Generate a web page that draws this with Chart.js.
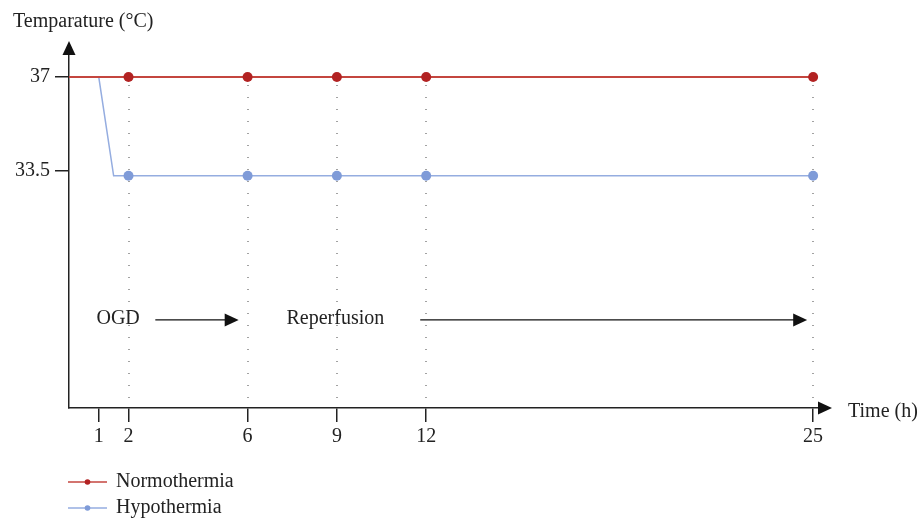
<!DOCTYPE html>
<html>
<head>
<meta charset="utf-8">
<script src="https://cdn.jsdelivr.net/npm/chart.js@4"></script>
<style>
  html, body { margin: 0; padding: 0; background: #fff; }
  #wrap { width: 923px; height: 519px; position: relative; }
</style>
</head>
<body>
<div id="wrap"><canvas id="tempChart"></canvas></div>
<script>
// values
const xTicks = [1, 2, 6, 9, 12, 25];
const yTicks = [37, 33.5];
const markerHours = [2, 6, 9, 12, 25];

const normHours = [0, 2, 6, 9, 12, 25];
const normTemp  = [37, 37, 37, 37, 37, 37];
const normDots  = [0, 5, 5, 5, 5, 5];

const hypoHours = [0, 1, 1.5, 2, 6, 9, 12, 25];
const hypoTemp  = [37, 37, 33.3, 33.3, 33.3, 33.3, 33.3, 33.3];
const hypoDots  = [0, 0, 0, 5, 5, 5, 5, 5];

// phase labels: text, text centre (h), arrow from, arrow to (h)
const phases = [
  { text: 'OGD', at: 1.65, from: 2.9, to: 5.7 },
  { text: 'Reperfusion', at: 8.95, from: 11.8, to: 24.8 }
];
const phaseTemp = 27.9;

const FONT = '"Liberation Serif", "DejaVu Serif", serif';
const FSIZE = 20;
const AXIS = '#222';
const RED = '#c4463f', RED_DOT = '#b22222';
const BLUE = '#95ade0', BLUE_DOT = '#7f9bd8';

const toPts = (xs, ys) => xs.map((x, i) => ({ x: x, y: ys[i] }));

function arrowHead(ctx, x, y, dir) {
  ctx.beginPath();
  if (dir === 'right') {
    ctx.moveTo(x, y);
    ctx.lineTo(x - 14, y - 6.5);
    ctx.lineTo(x - 14, y + 6.5);
  } else {
    ctx.moveTo(x, y);
    ctx.lineTo(x - 6.5, y + 14);
    ctx.lineTo(x + 6.5, y + 14);
  }
  ctx.closePath();
  ctx.fill();
}

const decor = {
  id: 'decor',
  beforeDatasetsDraw(chart) {
    const { ctx, scales: { x, y } } = chart;
    ctx.save();
    ctx.fillStyle = '#444';
    markerHours.forEach(h => {
      const px = Math.round(x.getPixelForValue(h));
      const top = y.getPixelForValue(37) + 8;
      for (let py = top; py < chart.chartArea.bottom - 2; py += 12) {
        ctx.fillRect(px - 0.5, Math.round(py), 1, 1);
      }
    });
    ctx.restore();
  },
  afterDraw(chart) {
    const { ctx, chartArea: ca, scales: { x, y } } = chart;
    ctx.save();
    ctx.fillStyle = '#111';
    ctx.strokeStyle = '#111';
    // axis arrows
    arrowHead(ctx, ca.right + 4, ca.bottom, 'right');
    arrowHead(ctx, ca.left, ca.top - 4, 'up');

    ctx.font = FSIZE + 'px ' + FONT;
    ctx.fillStyle = '#222';
    ctx.textBaseline = 'middle';
    ctx.textAlign = 'left';
    ctx.fillText('Temparature (°C)', 13, 22);
    ctx.fillText('Time (h)', ca.right + 20, ca.bottom + 4);

    // phase labels and arrows
    const py = y.getPixelForValue(phaseTemp);
    phases.forEach(p => {
      ctx.fillStyle = '#222';
      ctx.textAlign = 'center';
      ctx.fillText(p.text, x.getPixelForValue(p.at), py - 1);
      const x1 = x.getPixelForValue(p.from), x2 = x.getPixelForValue(p.to);
      ctx.lineWidth = 1.3;
      ctx.beginPath();
      ctx.moveTo(x1, py);
      ctx.lineTo(x2 - 10, py);
      ctx.stroke();
      ctx.fillStyle = '#111';
      arrowHead(ctx, x2, py, 'right');
    });

    // legend
    chart.data.datasets.slice().reverse().forEach((ds, i) => {
      const ly = 482 + i * 26;
      ctx.strokeStyle = ds.borderColor;
      ctx.lineWidth = 1.5;
      ctx.beginPath();
      ctx.moveTo(68, ly);
      ctx.lineTo(107, ly);
      ctx.stroke();
      ctx.fillStyle = ds.pointBackgroundColor;
      ctx.beginPath();
      ctx.arc(87.5, ly, 2.8, 0, Math.PI * 2);
      ctx.fill();
      ctx.fillStyle = '#222';
      ctx.textAlign = 'left';
      ctx.fillText(ds.label, 116, ly);
    });
    ctx.restore();
  }
};

new Chart(document.getElementById('tempChart'), {
  type: 'line',
  data: {
    datasets: [
      {
        label: 'Hypothermia',
        data: toPts(hypoHours, hypoTemp),
        borderColor: BLUE,
        backgroundColor: BLUE_DOT,
        pointBackgroundColor: BLUE_DOT,
        pointBorderWidth: 0,
        pointRadius: hypoDots,
        borderWidth: 1.5,
        tension: 0,
        order: 1
      },
      {
        label: 'Normothermia',
        data: toPts(normHours, normTemp),
        borderColor: RED,
        backgroundColor: RED_DOT,
        pointBackgroundColor: RED_DOT,
        pointBorderWidth: 0,
        pointRadius: normDots,
        borderWidth: 2,
        tension: 0,
        order: 0
      }
    ]
  },
  options: {
    responsive: true,
    maintainAspectRatio: false,
    animation: false,
    layout: { padding: { top: 45, right: 95, left: 0, bottom: 0 } },
    plugins: { legend: { display: false }, tooltip: { enabled: false } },
    scales: {
      x: {
        type: 'linear',
        min: 0,
        max: 25.5,
        afterFit: s => { s.height = 111; },
        afterBuildTicks: s => { s.ticks = xTicks.map(v => ({ value: v })); },
        grid: { drawOnChartArea: false, drawTicks: true, tickLength: 14, color: AXIS, lineWidth: 1.5 },
        border: { display: true, color: AXIS, width: 1.5 },
        ticks: { color: '#222', padding: 3, maxRotation: 0, font: { family: FONT, size: FSIZE }, callback: v => String(v) }
      },
      y: {
        min: 24.6,
        max: 38.2,
        afterFit: s => { s.width = 69; },
        afterBuildTicks: s => { s.ticks = yTicks.map(v => ({ value: v })); },
        grid: { drawOnChartArea: false, drawTicks: true, tickLength: 14, color: AXIS, lineWidth: 1.5 },
        border: { display: true, color: AXIS, width: 1.5 },
        ticks: { color: '#222', padding: 5, font: { family: FONT, size: FSIZE }, callback: v => String(v) }
      }
    }
  },
  plugins: [decor]
});
</script>
</body>
</html>
